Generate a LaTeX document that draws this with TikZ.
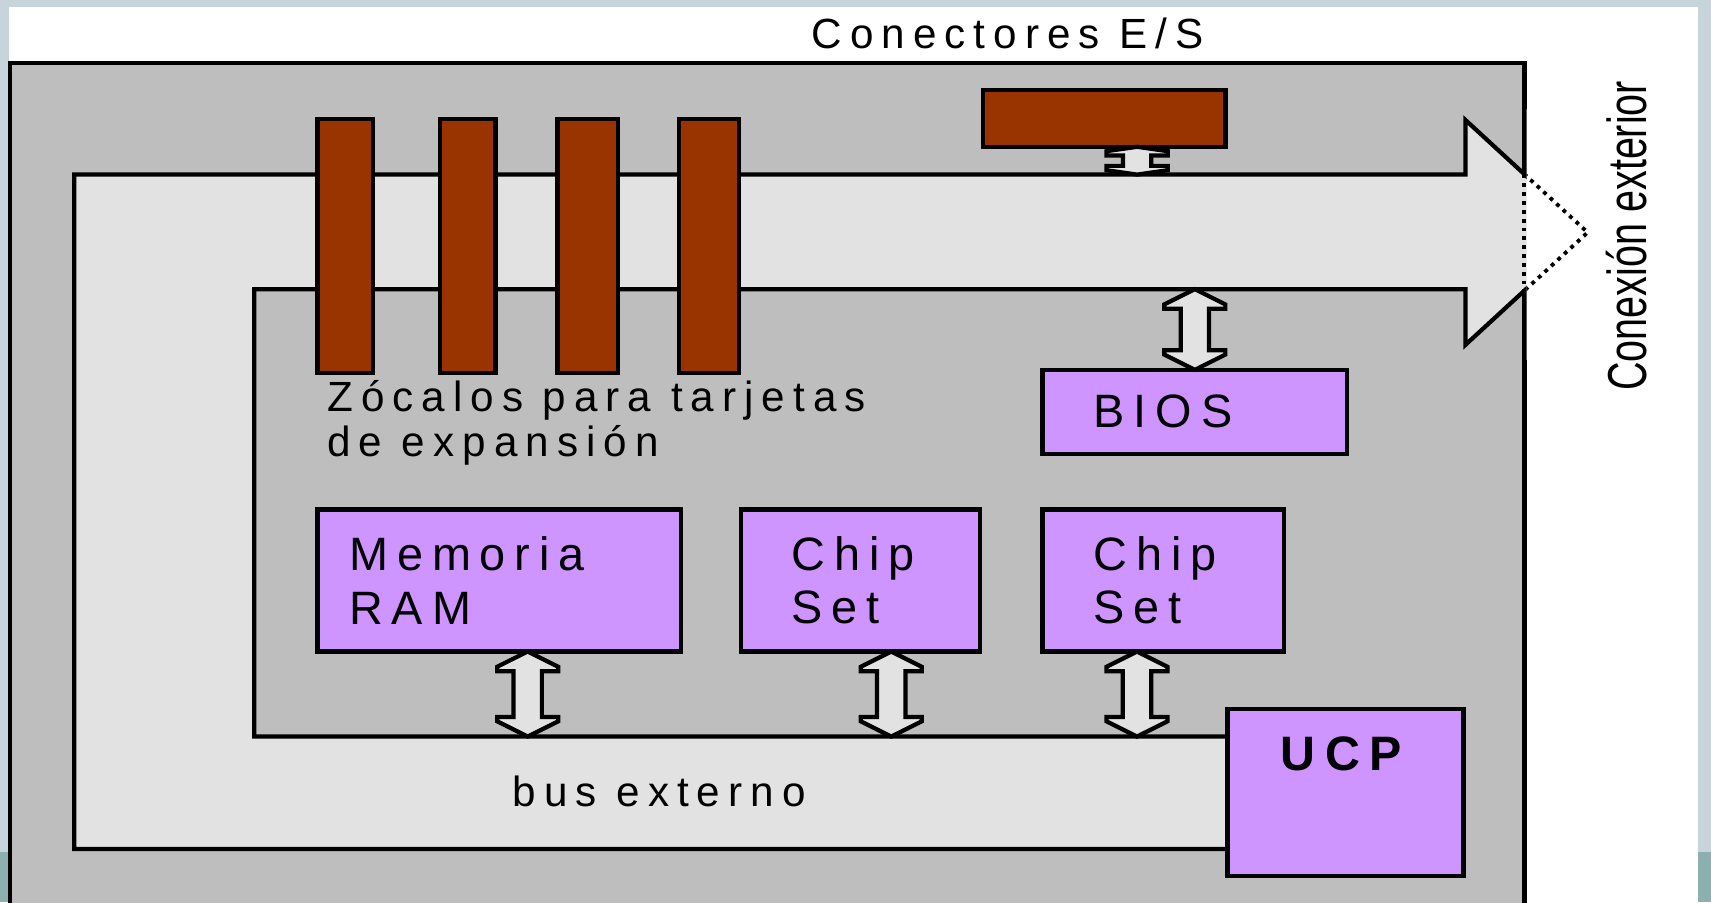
\documentclass[tikz,border=0pt]{standalone}
\usepackage{fontspec}
\setmainfont{Liberation Sans}
\newfontfamily\diagfont[LetterSpace=19]{Liberation Sans}
\usetikzlibrary{positioning, calc}
\definecolor{framegray}{RGB}{200,212,220}
\definecolor{frameteal}{RGB}{140,176,176}
\definecolor{panelgray}{RGB}{190,190,190}
\definecolor{busgray}{RGB}{226,226,226}
\definecolor{slotbrown}{RGB}{153,51,0}
\definecolor{chippurple}{RGB}{206,148,255}
\newcommand{\tagfont}{\diagfont\fontsize{11}{11.7}\selectfont}
\newcommand{\chipfont}{\diagfont\fontsize{12.2}{13.9}\selectfont}
\newcommand{\ucpfont}{\diagfont\bfseries\fontsize{12.6}{14}\selectfont}
\newcommand{\connfont}{\fontsize{14.3}{16}\selectfont}
% double arrow between the bus and a block: [head length]{top}{bottom}
\newcommand{\busarrow}[3][18]{%
  \draw[busline] (#2) -- ($(#2)+(28,#1-4)$) -- ($(#2)+(28,#1)$) -- ($(#2)+(13,#1)$)
    -- ($(#3)+(13,-#1)$) -- ($(#3)+(28,-#1)$) -- ($(#3)+(28,4-#1)$) -- (#3)
    -- ($(#3)+(-28,4-#1)$) -- ($(#3)+(-28,-#1)$) -- ($(#3)+(-13,-#1)$)
    -- ($(#2)+(-13,#1)$) -- ($(#2)+(-28,#1)$) -- ($(#2)+(-28,#1-4)$) -- cycle;}
\begin{document}
\begin{tikzpicture}[x=0.01cm, y=-0.01cm, line width=1.1pt,
  slot/.style={draw, fill=slotbrown, anchor=north west, inner sep=0pt, outer sep=0pt, minimum height=2.33cm},
  chip/.style={draw, fill=chippurple, align=left, font=\chipfont, inner ysep=0pt, outer sep=0pt, minimum height=1.3cm},
  tag/.style={font=\tagfont, inner sep=0pt},
  busline/.style={draw, fill=busgray},
  dots/.style={line width=1pt, dash pattern=on 1pt off 1.3pt}
]
\useasboundingbox (0,0) rectangle (1568,827);
% frame and board
\fill[framegray] (0,0) rectangle (1568,827);
\fill[white] (8,6) rectangle (1556,827);
\fill[frameteal] (0,781) rectangle (8,827);
\fill[frameteal] (1556,781) rectangle (1568,827);
\draw[fill=panelgray] (9.5,57.5) rectangle (1397,850);

% external bus
\draw[busline] (68,160) -- (1343,160) -- (1343,110) -- (1455,213) -- (1343,316)
  -- (1343,265) -- (233,265) -- (233,675) -- (1125,675) -- (1125,778) -- (68,778) -- cycle;
\begin{scope}
  \clip (1399,0) rectangle (1568,827);
  \fill[white] (1390,100) rectangle (1468,330);
  \draw[dots] (1343,110) -- (1455,213) -- (1343,316);
\end{scope}
\draw[dots] (1397,160) -- (1397,266);
\coordinate (bustop) at (0,160);
\coordinate (businner) at (0,265);
\coordinate (busbottom) at (0,675);

% expansion slots and I/O connector
\foreach \x/\w [count=\i] in {291/51, 403/51, 511/55, 622/55}
  \node[slot, minimum width=\w*0.01cm] (slot\i) at (\x,109) {};
\node[slot, minimum width=2.22cm, minimum height=0.52cm] (es) at (901,82.5) {};

% chips
\node[chip, anchor=north west, text width=2.75cm, inner xsep=0.29cm] (ram) at (291,467) {Memoria\\RAM};
\node[chip, right=0.55cm of ram, text width=1.27cm, inner xsep=0.46cm] (chipA) {Chip\\Set};
\node[chip, right=0.57cm of chipA, text width=1.27cm, inner xsep=0.47cm] (chipB) {Chip\\Set};
\node[chip, above right=0.51cm and 0cm of chipB.north west, minimum height=0.77cm,
  text width=1.85cm, inner xsep=0.47cm] (bios) {BIOS};
\node[chip, anchor=north west, minimum width=2.16cm, minimum height=1.53cm] (ucp) at (1125,650) {};
\node[tag, font=\ucpfont, anchor=base west] (ucptxt) at (1172,706) {UCP};

% links to the bus
\coordinate (esport) at ($(es.south)+(30,0)$);
\coordinate (ramport) at ($(ram.south)+(26,0)$);
\coordinate (chipAport) at ($(chipA.south)+(28,0)$);
\coordinate (chipBport) at ($(chipB.south)+(-24,0)$);
\coordinate (biosport) at (bios.north);
\coordinate (esbus) at (esport |- bustop);
\coordinate (biosbus) at (biosport |- businner);
\coordinate (rambus) at (ramport |- busbottom);
\coordinate (chipAbus) at (chipAport |- busbottom);
\coordinate (chipBbus) at (chipBport |- busbottom);
\busarrow[8]{esport}{esbus}
\busarrow{biosbus}{biosport}
\busarrow{ramport}{rambus}
\busarrow{chipAport}{chipAbus}
\busarrow{chipBport}{chipBbus}

% labels
\node[tag, anchor=base west] (title) at (742,44) {Conectores E/S};
\node[tag, anchor=north west, align=left] (slotlbl) at (298,347) {Zócalos para tarjetas\\de expansión};
\node[tag, anchor=base west] (buslbl) at (468,739) {bus externo};
\node[rotate=90, anchor=base, inner sep=0pt, font=\connfont] (exterior) at (1509,216)
  {\scalebox{0.72}[1]{Conexión exterior}};
\end{tikzpicture}
\end{document}
